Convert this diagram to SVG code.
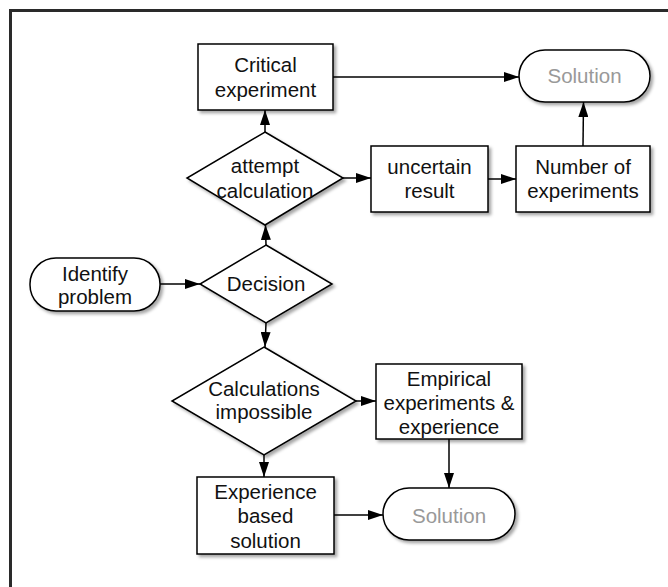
<svg xmlns="http://www.w3.org/2000/svg" width="668" height="587" viewBox="0 0 668 587">
<defs>
<style>
.n{fill:#fff;stroke:#000;stroke-width:1.5;filter:url(#sh)}
.t{font-family:"Liberation Sans",Arial,sans-serif;font-size:20.5px;fill:#111;text-anchor:middle}
.g{fill:#999}
.c{stroke:#000;stroke-width:1.5;fill:none;marker-end:url(#ah)}
</style>
<filter id="sh" x="-10%" y="-10%" width="130%" height="130%">
<feDropShadow dx="2.5" dy="2.5" stdDeviation="1.8" flood-color="#000" flood-opacity="0.35"/>
</filter>
<marker id="ah" markerWidth="15" markerHeight="10" refX="15" refY="5" orient="auto" markerUnits="userSpaceOnUse">
<path d="M0,0 L15,5 L0,10 Z" fill="#000"/>
</marker>
</defs>
<rect width="668" height="587" fill="#fff"/>
<path d="M10.5,587 V10.5 H668" fill="none" stroke="#2a2a2a" stroke-width="3"/>
<g id="connectors">
<line class="c" x1="333" y1="77" x2="519" y2="77"/>
<line class="c" x1="265" y1="132" x2="265" y2="110"/>
<line class="c" x1="266" y1="245" x2="265.5" y2="225"/>
<line class="c" x1="160" y1="284" x2="200" y2="284"/>
<line class="c" x1="266" y1="323" x2="265" y2="347"/>
<line class="c" x1="343" y1="178" x2="371" y2="178"/>
<line class="c" x1="488" y1="179" x2="516" y2="179"/>
<line class="c" x1="583" y1="146" x2="583.5" y2="102"/>
<line class="c" x1="356" y1="401" x2="376" y2="401"/>
<line class="c" x1="264" y1="455" x2="264" y2="477"/>
<line class="c" x1="449" y1="439" x2="449" y2="488"/>
<line class="c" x1="334" y1="515" x2="383" y2="515"/>
</g>
<g id="critical">
<rect class="n" x="198" y="44" width="135" height="66"/>
<text class="t" x="265.5" y="72">Critical</text>
<text class="t" x="265.5" y="97">experiment</text>
</g>
<g id="solution1">
<rect class="n" x="519" y="50" width="131" height="52" rx="26"/>
<text class="t g" x="584.5" y="83">Solution</text>
</g>
<g id="attempt">
<polygon class="n" points="265,132 343,178 265,225 187,178"/>
<text class="t" x="265" y="173">attempt</text>
<text class="t" x="265" y="198">calculation</text>
</g>
<g id="uncertain">
<rect class="n" x="371" y="146" width="117" height="66"/>
<text class="t" x="429.5" y="174">uncertain</text>
<text class="t" x="429.5" y="198">result</text>
</g>
<g id="number">
<rect class="n" x="516" y="146" width="134" height="66"/>
<text class="t" x="583" y="174">Number of</text>
<text class="t" x="583" y="198">experiments</text>
</g>
<g id="identify">
<rect class="n" x="30" y="258" width="130" height="53" rx="26"/>
<text class="t" x="95" y="281">Identify</text>
<text class="t" x="95" y="304">problem</text>
</g>
<g id="decision">
<polygon class="n" points="266,245 332,284 266,323 200,284"/>
<text class="t" x="266" y="291">Decision</text>
</g>
<g id="calculations">
<polygon class="n" points="264,347 356,401 264,455 172,401"/>
<text class="t" x="264" y="396">Calculations</text>
<text class="t" x="264" y="419">impossible</text>
</g>
<g id="empirical">
<rect class="n" x="376" y="364" width="146" height="75"/>
<text class="t" x="449" y="386">Empirical</text>
<text class="t" x="449" y="410">experiments &amp;</text>
<text class="t" x="449" y="434">experience</text>
</g>
<g id="experience">
<rect class="n" x="197" y="477" width="137" height="77"/>
<text class="t" x="265.5" y="499">Experience</text>
<text class="t" x="265.5" y="523">based</text>
<text class="t" x="265.5" y="548">solution</text>
</g>
<g id="solution2">
<rect class="n" x="383" y="488" width="132" height="52" rx="26"/>
<text class="t g" x="449" y="523">Solution</text>
</g>
</svg>
